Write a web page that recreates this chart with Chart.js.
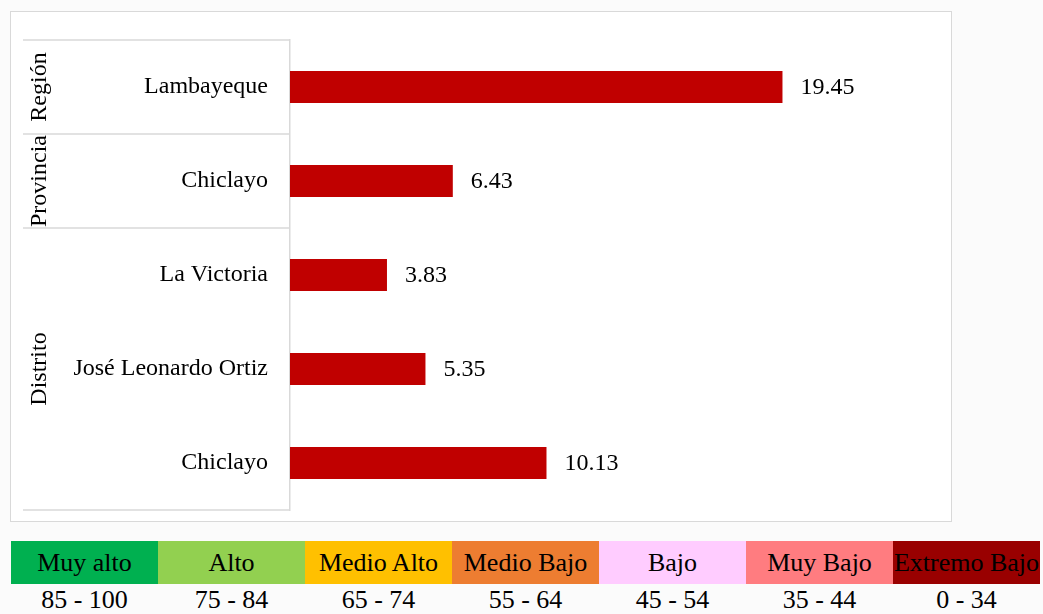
<!DOCTYPE html>
<html>
<head>
<meta charset="utf-8">
<script src="https://cdn.jsdelivr.net/npm/chart.js@4"></script>
<style>
  body { margin: 0; background: #fbfbfb; font-family: "Liberation Serif", "Times New Roman", serif; }
  #box {
    position: absolute; left: 10px; top: 11px; width: 942px; height: 511px;
    box-sizing: border-box; border: 1px solid #d9d9d9; background: #fff;
  }
  #scale { position: absolute; left: 11px; top: 541px; display: flex; }
  .cell { width: 147px; text-align: center; white-space: nowrap; }
  .name { height: 43px; line-height: 43px; font-size: 26px; color: #000; }
  .range { height: 32px; line-height: 32px; font-size: 26px; color: #000; }
</style>
</head>
<body>
<div id="box"><canvas id="barChart"></canvas></div>
<div id="scale"></div>
<script>
// datos
const categorias = ["Lambayeque", "Chiclayo", "La Victoria", "José Leonardo Ortiz", "Chiclayo"];
const valores = [19.45, 6.43, 3.83, 5.35, 10.13];
const grupos = ["Región", "Provincia", "Distrito"];
const tamanoGrupos = [1, 1, 3];

// escala de niveles
const niveles = ["Muy alto", "Alto", "Medio Alto", "Medio Bajo", "Bajo", "Muy Bajo", "Extremo Bajo"];
const rangos = ["85 - 100", "75 - 84", "65 - 74", "55 - 64", "45 - 54", "35 - 44", "0 - 34"];
const coloresNivel = ["#00b050", "#92d050", "#ffc000", "#ed7d31", "#ffccff", "#ff7c80", "#990000"];

const scaleDiv = document.getElementById("scale");
niveles.forEach((n, i) => {
  const c = document.createElement("div");
  c.className = "cell";
  c.innerHTML = '<div class="name" style="background:' + coloresNivel[i] + '">' + n +
    '</div><div class="range">' + rangos[i] + "</div>";
  scaleDiv.appendChild(c);
});

const FONT = "Liberation Serif";
const LINE = "#d9d9d9";

// etiquetas de valor al final de cada barra
const valueLabels = {
  id: "valueLabels",
  afterDatasetsDraw(chart) {
    const ctx = chart.ctx;
    ctx.save();
    ctx.font = "24px '" + FONT + "'";
    ctx.fillStyle = "#000";
    ctx.textAlign = "left";
    ctx.textBaseline = "middle";
    chart.getDatasetMeta(0).data.forEach((bar, i) => {
      ctx.fillText(valores[i].toFixed(2), bar.x + 18, bar.y + 1);
    });
    ctx.restore();
  },
};

// grupos (Región / Provincia / Distrito) y líneas separadoras
const groupLabels = {
  id: "groupLabels",
  afterDraw(chart) {
    const ctx = chart.ctx;
    const area = chart.chartArea;
    const band = (area.bottom - area.top) / categorias.length;
    ctx.save();
    ctx.strokeStyle = LINE;
    ctx.lineWidth = 1.5;
    let start = 0;
    const line = (y) => {
      ctx.beginPath();
      ctx.moveTo(12, y);
      ctx.lineTo(area.left, y);
      ctx.stroke();
    };
    line(area.top);
    ctx.font = "24px '" + FONT + "'";
    ctx.fillStyle = "#000";
    ctx.textAlign = "center";
    ctx.textBaseline = "middle";
    grupos.forEach((g, i) => {
      const y0 = area.top + start * band;
      const y1 = y0 + tamanoGrupos[i] * band;
      line(y1);
      ctx.save();
      ctx.translate(29, (y0 + y1) / 2);
      ctx.rotate(-Math.PI / 2);
      ctx.fillText(g, 0, 0);
      ctx.restore();
      start += tamanoGrupos[i];
    });
    ctx.restore();
  },
};

new Chart(document.getElementById("barChart").getContext("2d"), {
  type: "bar",
  data: {
    labels: categorias,
    datasets: [
      {
        data: valores,
        backgroundColor: "#c00000",
        barPercentage: 0.34,
        categoryPercentage: 1,
      },
    ],
  },
  options: {
    indexAxis: "y",
    responsive: true,
    maintainAspectRatio: false,
    animation: false,
    layout: { padding: { top: 28, right: 28, bottom: 11, left: 0 } },
    scales: {
      x: { display: false, min: 0, max: 25 },
      y: {
        grid: { display: false, drawTicks: false },
        border: { display: true, color: LINE, width: 1.5 },
        ticks: {
          color: "#000",
          padding: 22,
          font: { family: FONT, size: 24 },
        },
        afterFit(scale) {
          scale.width = 279;
          scale.paddingTop = 0;
          scale.paddingBottom = 0;
        },
      },
    },
    plugins: {
      legend: { display: false },
      tooltip: { enabled: false },
    },
  },
  plugins: [valueLabels, groupLabels],
});
</script>
</body>
</html>
